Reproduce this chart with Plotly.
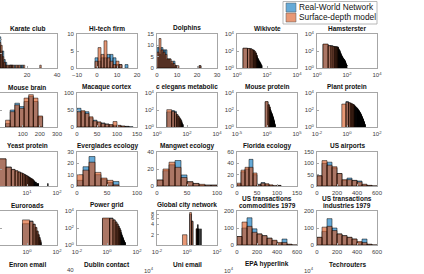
import plotly.graph_objects as go

W, H = 424, 274

# ------------------------------------------------------------------ data
# Each histogram: first bin edge, bin width, counts (real network / model)
KARATE_START, KARATE_WIDTH = 0.5, 1
KARATE_REAL = [1, 11, 6, 6, 3, 2, 0, 0, 1, 1, 0, 1, 0, 0, 0, 1, 1]
KARATE_MODEL = [2, 9, 8, 4, 2, 1, 1, 1, 1, 1, 1, 0, 1, 1, 1, 0, 0, 1, 0, 0, 0, 0, 0, 0, 0, 0, 0, 0, 1]

HITECH_START, HITECH_WIDTH = -1, 1.5
HITECH_REAL = [3, 2, 3, 3, 4, 4, 3, 1, 1, 0, 1, 0]
HITECH_MODEL = [2, 6, 4, 8, 3, 2, 1, 2, 1, 0, 0, 0]

DOLPH_START, DOLPH_WIDTH = 0, 1
DOLPH_REAL = [9, 6, 9, 8, 8, 4, 4, 2, 3, 1, 0, 0, 0, 0, 0, 0, 0, 0, 0, 0, 0, 1]
DOLPH_MODEL = [7, 13, 8, 7, 6, 4, 4, 3, 2, 1, 1, 0, 0, 0, 0, 0, 0, 0, 0, 0, 0, 1]

WIKI_START, WIKI_WIDTH = 2.5, 2.5
WIKI_REAL = [205, 200, 180, 135, 120, 80, 58, 30, 20, 15, 10, 8, 6, 5, 4, 3, 2, 2, 1, 1, 1, 1]
WIKI_MODEL = [215, 195, 175, 140, 115, 85, 55, 32, 22, 14, 11, 7, 6, 4, 4, 3, 2, 2, 1, 1, 1, 1]

HAMST_START, HAMST_WIDTH = 2.5, 3
HAMST_REAL = [600, 430, 410, 340, 330, 320, 310, 290, 250, 180, 130, 90, 60, 40, 30, 25, 20,
              17, 15, 13, 11, 10, 9, 8, 7, 6, 5, 4, 3, 3, 2, 2, 2, 2, 1, 1, 1]
HAMST_MODEL = [650, 420, 400, 350, 320, 315, 300, 280, 240, 170, 125, 85, 58, 42, 31, 24, 21,
               16, 14, 12, 11, 10, 8, 8, 7, 6, 5, 4, 3, 3, 2, 2, 2, 1, 1, 1, 1]

MBRAIN_START, MBRAIN_WIDTH = 0, 27
MBRAIN_REAL = [4, 20, 28, 24, 30, 36, 30, 12]
MBRAIN_MODEL = [8, 18, 26, 22, 34, 38, 34, 13]

MACAQ_START, MACAQ_WIDTH = 0, 10
MACAQ_REAL = [55, 45, 45, 27, 20, 14, 12, 9, 6, 5, 4, 2, 2, 1, 0]
MACAQ_MODEL = [45, 48, 40, 30, 18, 15, 10, 8, 7, 16, 5, 3, 1, 0, 0]

CELEG_START, CELEG_WIDTH = 4.5, 5
CELEG_REAL = [60, 85, 70, 30, 20, 12, 9, 6, 4, 3, 2, 1, 1]
CELEG_MODEL = [110, 70, 50, 28, 18, 12, 8, 5, 4, 2, 2, 1, 1]

MPROT_START, MPROT_WIDTH = 0.5, 1
MPROT_REAL = [900, 420, 230, 140, 90, 60, 45, 33, 25, 19, 15, 12, 10, 8, 6, 5, 4, 3, 3, 2, 2, 2, 1, 1, 1]
MPROT_MODEL = [1000, 400, 220, 130, 85, 58, 42, 31, 24, 18, 14, 11, 9, 7, 6, 5, 4, 3, 3, 2, 2, 1, 1, 1, 1]

PPROT_START, PPROT_WIDTH = 0.45, 0.4
PPROT_REAL = [0, 1000, 700, 600, 520, 450, 380, 320, 280, 240, 200, 170, 140, 120, 100, 85, 70, 60, 50,
              42, 36, 30, 25, 21, 18, 15, 13, 11, 9, 8, 7, 6, 5, 4, 4, 3, 3, 2, 2, 2, 1, 1, 1, 1, 1]
PPROT_MODEL = [500, 800, 720, 610, 510, 440, 370, 330, 270, 230, 200, 165, 140, 115, 100, 80, 70, 58, 48,
               40, 35, 29, 24, 20, 17, 14, 12, 10, 9, 8, 6, 5, 5, 4, 3, 3, 2, 2, 2, 1, 1, 1, 1, 1, 1]

YEAST_START, YEAST_WIDTH = 1, 1
YEAST_REAL = [1500, 170, 90, 60, 45, 35, 28, 22, 18, 15, 12, 10, 8, 7, 6, 5, 4, 4, 3, 3, 2, 2, 2, 2,
              1, 1, 1, 1, 1, 1, 1, 1, 1, 1, 1, 1, 1, 1, 1, 1, 1, 1, 1, 1, 1, 1, 1, 1, 2, 2]
YEAST_MODEL = [1600, 160, 85, 62, 44, 34, 27, 21, 17, 14, 11, 9, 8, 7, 6, 5, 4, 3, 3, 3, 2, 2, 2, 2,
               1, 1, 1, 1, 1, 1, 1, 1, 1, 1, 1, 1, 1, 1, 1, 1, 1, 1, 1, 1, 1, 1, 1, 1, 1, 1]

EVERG_START, EVERG_WIDTH = 0, 10
EVERG_REAL = [5, 17, 26, 10, 6, 3, 4, 0, 0, 0]
EVERG_MODEL = [10, 14, 21, 12, 7, 5, 1, 0, 0, 0]

MANGW_START, MANGW_WIDTH = 0, 10
MANGW_REAL = [7, 18, 25, 30, 13, 5, 3, 1, 1, 1]
MANGW_MODEL = [7, 20, 28, 22, 10, 5, 3, 2, 1, 1]

FLORI_START, FLORI_WIDTH = 0, 10
FLORI_REAL = [3, 25, 30, 47, 20, 3, 6, 3, 1, 0, 1, 0]
FLORI_MODEL = [5, 28, 33, 33, 23, 2, 5, 4, 2, 1, 1, 0]

AIRP_START, AIRP_WIDTH = 0, 50
AIRP_REAL = [45, 100, 105, 80, 55, 25, 35, 25, 22, 5, 2, 0]
AIRP_MODEL = [45, 112, 92, 85, 55, 28, 28, 24, 18, 8, 3, 1]

EUROR_START, EUROR_WIDTH = 0.5, 1
EUROR_REAL = [320, 650, 280, 110, 40, 15, 8, 3, 2, 1]
EUROR_MODEL = [900, 600, 270, 120, 45, 18, 7, 4, 2, 1]

POWER_START, POWER_WIDTH = 0.5, 1
POWER_REAL = [1226, 1500, 900, 500, 290, 170, 100, 60, 35, 22, 14, 9, 6, 4, 3, 2, 2, 1, 1, 1]
POWER_MODEL = [1500, 1300, 880, 520, 300, 160, 95, 58, 34, 21, 13, 8, 6, 4, 3, 2, 2, 1, 1, 1]

GCITY_START, GCITY_WIDTH = 0.5, 0.5
GCITY_REAL = [0, 0, 8, 5, 0, 0, 0, 0, 3, 3, 4, 3, 0, 3, 0, 0, 0, 3]
GCITY_MODEL = [2, 0, 9, 5, 0, 0, 0, 3, 3, 4, 3, 3, 0, 0, 0, 3, 0, 0]

USCOM_START, USCOM_WIDTH = 0, 50
USCOM_REAL = [50, 100, 160, 95, 65, 55, 40, 25, 10, 35, 3, 0]
USCOM_MODEL = [50, 135, 110, 75, 65, 55, 40, 28, 15, 15, 5, 1]

USIND_START, USIND_WIDTH = 0, 50
USIND_REAL = [45, 80, 155, 100, 65, 55, 45, 35, 15, 35, 3, 0]
USIND_MODEL = [45, 105, 110, 85, 65, 55, 45, 35, 20, 15, 5, 1]

TITLES = [
    ["Karate club"], ["Hi-tech firm"], ["Dolphins"], ["Wikivote"], ["Hamsterster"],
    ["Mouse brain"], ["Macaque cortex"], ["c elegans metabolic"], ["Mouse protein"], ["Plant protein"],
    ["Yeast protein"], ["Everglades ecology"], ["Mangwet ecology"], ["Florida ecology"], ["US airports"],
    ["Euroroads"], ["Power grid"], ["Global city network"], ["US transactions", "commodities 1979"],
    ["US transactions", "industries 1979"],
    ["Enron email"], ["Dublin contact"], ["Uni email"], ["EPA hyperlink"], ["Techrouters"],
]
LEGEND_LABELS = ["Real-World Network", "Surface-depth model"]


def sup(e):
    return "10<sup>%s</sup>" % e


LOG_T = ([1, 100, 10000], [sup(0), sup(2), sup(4)])
LOG_T2 = ([0.01, 1, 100], [sup(-2), sup(0), sup(2)])
LOG_T5 = ([1e-5, 1, 1e5], [sup(-5), sup(0), sup(5)])

# top y-tick label of the partly visible bottom row
BOTTOM_ROW_TOPTICK = [None, "40", sup(4), sup(4), sup(4)]

HISTS = [
    (KARATE_START, KARATE_WIDTH, KARATE_REAL, KARATE_MODEL),
    (HITECH_START, HITECH_WIDTH, HITECH_REAL, HITECH_MODEL),
    (DOLPH_START, DOLPH_WIDTH, DOLPH_REAL, DOLPH_MODEL),
    (WIKI_START, WIKI_WIDTH, WIKI_REAL, WIKI_MODEL),
    (HAMST_START, HAMST_WIDTH, HAMST_REAL, HAMST_MODEL),
    (MBRAIN_START, MBRAIN_WIDTH, MBRAIN_REAL, MBRAIN_MODEL),
    (MACAQ_START, MACAQ_WIDTH, MACAQ_REAL, MACAQ_MODEL),
    (CELEG_START, CELEG_WIDTH, CELEG_REAL, CELEG_MODEL),
    (MPROT_START, MPROT_WIDTH, MPROT_REAL, MPROT_MODEL),
    (PPROT_START, PPROT_WIDTH, PPROT_REAL, PPROT_MODEL),
    (YEAST_START, YEAST_WIDTH, YEAST_REAL, YEAST_MODEL),
    (EVERG_START, EVERG_WIDTH, EVERG_REAL, EVERG_MODEL),
    (MANGW_START, MANGW_WIDTH, MANGW_REAL, MANGW_MODEL),
    (FLORI_START, FLORI_WIDTH, FLORI_REAL, FLORI_MODEL),
    (AIRP_START, AIRP_WIDTH, AIRP_REAL, AIRP_MODEL),
    (EUROR_START, EUROR_WIDTH, EUROR_REAL, EUROR_MODEL),
    (POWER_START, POWER_WIDTH, POWER_REAL, POWER_MODEL),
    (GCITY_START, GCITY_WIDTH, GCITY_REAL, GCITY_MODEL),
    (USCOM_START, USCOM_WIDTH, USCOM_REAL, USCOM_MODEL),
    (USIND_START, USIND_WIDTH, USIND_REAL, USIND_MODEL),
    None, None, None, None, None,
]

# axis specs: (type, range, ticks)
XSPEC = [
    ("linear", [0, 40], ([0, 20, 40], None)),
    ("linear", [-10, 20], ([-10, 0, 10, 20], None)),
    ("linear", [0, 30], ([0, 10, 20, 30], None)),
    ("log", [0, 4], LOG_T),
    ("log", [0, 4], LOG_T),
    ("linear", [-50, 300], ([100, 200, 300], None)),
    ("linear", [0, 150], ([0, 50, 100, 150], None)),
    ("log", [0, 4], LOG_T),
    ("log", [-5, 5], LOG_T5),
    ("log", [-2, 2], LOG_T2),
    ("log", [0, 2], ([1, 10, 100], [sup(0), sup(1), sup(2)])),
    ("linear", [0, 100], ([0, 50, 100], None)),
    ("linear", [0, 100], ([0, 50, 100], None)),
    ("linear", [0, 150], ([0, 50, 100, 150], None)),
    ("linear", [0, 600], ([0, 200, 400, 600], None)),
    ("log", [-2, 2], LOG_T2),
    ("log", [-2, 2], LOG_T2),
    ("log", [-2, 2], LOG_T2),
    ("linear", [0, 600], ([0, 200, 400, 600], None)),
    ("linear", [0, 600], ([0, 200, 400, 600], None)),
    ("linear", [0, 1], ([], None)),
    ("linear", [0, 1], ([], None)),
    ("linear", [0, 1], ([], None)),
    ("linear", [0, 1], ([], None)),
    ("linear", [0, 1], ([], None)),
]
YSPEC = [
    ("linear", [0, 12], ([0, 5, 10], None)),
    ("linear", [0, 10], ([0, 5, 10], None)),
    ("linear", [0, 15], ([0, 5, 10, 15], None)),
    ("log", [0, 4], LOG_T),
    ("log", [0, 4], LOG_T),
    ("linear", [0, 40], ([0, 20, 40], None)),
    ("linear", [0, 100], ([0, 50, 100], None)),
    ("log", [0, 4], LOG_T),
    ("log", [0, 4], LOG_T),
    ("log", [0, 4], LOG_T),
    ("log", [0, 4], LOG_T),
    ("linear", [0, 30], ([0, 10, 20, 30], None)),
    ("linear", [0, 40], ([0, 20, 40], None)),
    ("linear", [0, 60], ([0, 20, 40, 60], None)),
    ("linear", [0, 150], ([0, 50, 100, 150], None)),
    ("log", [0, 4], LOG_T),
    ("log", [0, 4], LOG_T),
    ("log", [0, 1], ([2, 4, 6, 8], ["2", "4", "6", "8"])),
    ("linear", [0, 200], ([0, 100, 200], None)),
    ("linear", [0, 200], ([0, 100, 200], None)),
    ("linear", [0, 40], ([], None)),
    ("linear", [0, 40], ([], None)),
    ("log", [0, 4], ([], None)),
    ("log", [0, 4], ([], None)),
    ("log", [0, 4], ([], None)),
]

# ------------------------------------------------------------------ figure
BLUE = "rgba(0,114,189,0.6)"
ORANGE = "rgba(217,83,25,0.6)"
BOX = "#a6a6a6"
FONT = "Liberation Sans, Arial, sans-serif"
TICKFONT = dict(family=FONT, size=6, color="#404040")
TITLEFONT = dict(family=FONT, size=6.5, color="#111")

COL_LEFT, COL_STEP, PW = -3, 80, 60
ROW_TOP, ROW_STEP, PH = 34, 59, 34

fig = go.Figure()
layout = {}
annotations = []


def bars(start, width, counts, ylog):
    xs, ys = [], []
    base = 1e-3 if ylog else 0
    for i, c in enumerate(counts):
        if c <= 0:
            continue
        a = start + i * width
        b = a + width
        xs += [a, a, b, b, a, None]
        ys += [base, c, c, base, base, None]
    return xs, ys


for i, title in enumerate(TITLES):
    r, c = divmod(i, 5)
    left = COL_LEFT + COL_STEP * c
    right = left + PW
    top = ROW_TOP + ROW_STEP * r
    bottom = top + PH
    vl, vb = max(left, 0), min(bottom, H)
    xt, xr, (xtv, xtt) = XSPEC[i]
    yt, yr, (ytv, ytt) = YSPEC[i]
    xr = [xr[0] + (xr[1] - xr[0]) * (vl - left) / PW, xr[1]]
    yr = [yr[0] + (yr[1] - yr[0]) * (bottom - vb) / PH, yr[1]]
    n = "" if i == 0 else str(i + 1)
    tf = TICKFONT if i != 17 else dict(TICKFONT, size=5.5)
    xa = dict(domain=[vl / W, right / W], type=xt, range=xr, anchor="y" + n,
              showline=True, mirror=True, linecolor=BOX, linewidth=0.8,
              ticks="inside", ticklen=2, tickwidth=0.5, tickcolor=BOX,
              tickvals=xtv, showgrid=False, zeroline=False, tickfont=TICKFONT,
              ticklabelstandoff=1, fixedrange=True, ticklabeloverflow="allow")
    if xtt:
        xa["ticktext"] = xtt
    ya = dict(domain=[1 - vb / H, 1 - top / H], type=yt, range=yr, anchor="x" + n,
              showline=True, mirror=True, linecolor=BOX, linewidth=0.8,
              ticks="inside", ticklen=2, tickwidth=0.5, tickcolor=BOX,
              tickvals=ytv, showgrid=False, zeroline=False, tickfont=tf,
              ticklabelstandoff=1, showticklabels=(c != 0), fixedrange=True,
              ticklabeloverflow="allow")
    if ytt:
        ya["ticktext"] = ytt
    if r == 4:
        xa["showticklabels"] = False
        ya["showticklabels"] = False
        if BOTTOM_ROW_TOPTICK[c]:
            annotations.append(dict(text=BOTTOM_ROW_TOPTICK[c], x=(left - 2) / W,
                                    y=1 - top / H, xref="paper", yref="paper",
                                    xanchor="right", yanchor="middle", showarrow=False,
                                    font=TICKFONT, borderpad=0))
    layout["xaxis" + n] = xa
    layout["yaxis" + n] = ya
    for k, line in enumerate(reversed(title)):
        annotations.append(dict(text="<b>%s</b>" % line, x=(left + right) / 2 / W,
                                y=1 - (top - 1 - 7 * k) / H, xref="paper", yref="paper",
                                xanchor="center", yanchor="bottom", showarrow=False,
                                font=TITLEFONT, borderpad=0))
    h = HISTS[i]
    if h is None:
        continue
    start, width, real, model = h
    for counts, col, name in ((real, BLUE, LEGEND_LABELS[0]), (model, ORANGE, LEGEND_LABELS[1])):
        xs, ys = bars(start, width, counts, yt == "log")
        fig.add_trace(go.Scatter(x=xs, y=ys, xaxis="x" + n, yaxis="y" + n, mode="lines",
                                 fill="toself", fillcolor=col,
                                 line=dict(color="black", width=0.5),
                                 name=name, showlegend=False, hoverinfo="skip"))

# manual legend (MATLAB-style box)
shapes = [dict(type="rect", xref="paper", yref="paper", x0=283 / W, x1=377 / W,
               y0=1 - 24 / H, y1=1 - 1.5 / H, line=dict(color=BOX, width=0.8),
               fillcolor="white", layer="above")]
for k, (col, lab) in enumerate(zip((BLUE, ORANGE), LEGEND_LABELS)):
    y0 = 3 + 10 * k
    shapes.append(dict(type="rect", xref="paper", yref="paper", x0=286 / W, x1=296 / W,
                       y0=1 - (y0 + 9) / H, y1=1 - y0 / H, fillcolor=col,
                       line=dict(color="#555", width=0.5), layer="above"))
    annotations.append(dict(text=lab, x=297 / W, y=1 - (y0 + 4.5) / H, xref="paper",
                            yref="paper", xanchor="left", yanchor="middle", showarrow=False,
                            font=dict(family=FONT, size=8.3, color="#111")))

fig.update_layout(width=W, height=H, margin=dict(l=0, r=0, t=0, b=0),
                  template="none", paper_bgcolor="white", plot_bgcolor="white",
                  showlegend=False, annotations=annotations, shapes=shapes, **layout)
fig.write_html("out.html", config={"displayModeBar": False},
               post_script="document.body.style.margin='0';document.body.style.overflow='hidden';")
